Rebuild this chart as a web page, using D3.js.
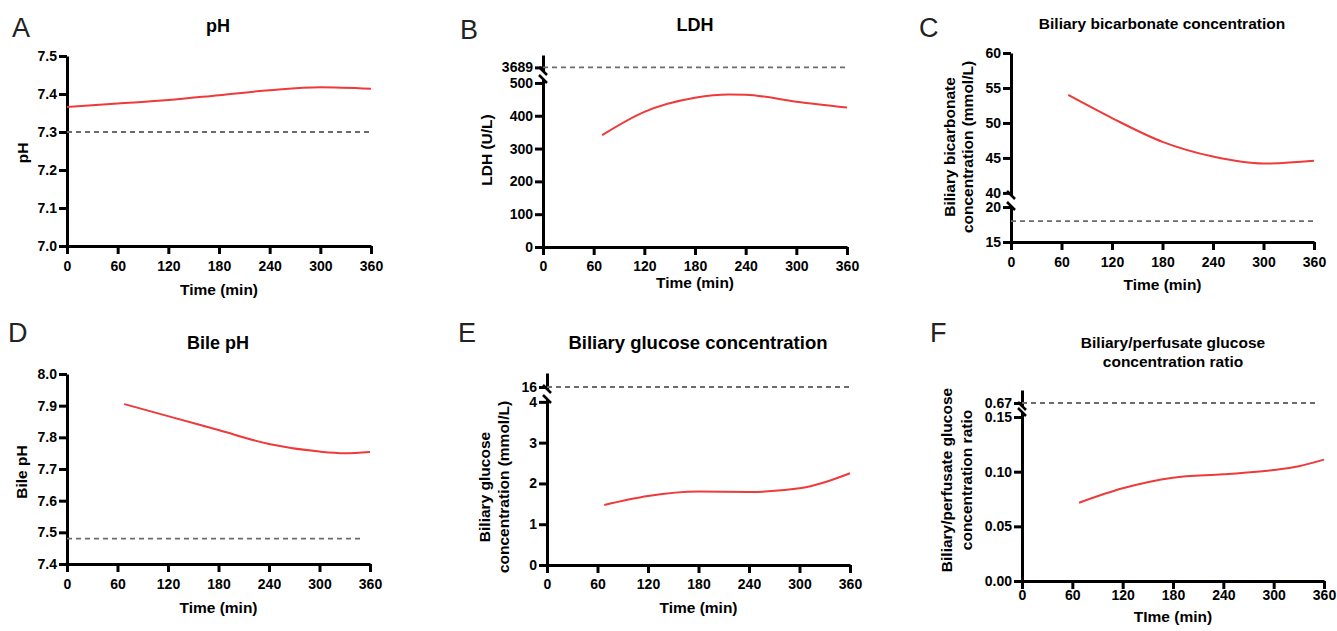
<!DOCTYPE html>
<html lang="en-US">
<head>
    <meta charset="utf-8">
    <title>Perfusion parameters</title>
    <script src="https://cdn.jsdelivr.net/npm/d3@7"></script>
    <style>
        body { margin: 0; background: #fff; }
        svg { display: block; font-family: Arial, "Liberation Sans", Helvetica, sans-serif; }
    </style>
</head>
<body>
    <svg></svg>
<script>

    // ---- data ----
    const xTicks = [0, 60, 120, 180, 240, 300, 360];

    const phTime = [0, 60, 120, 180, 240, 300, 360];
    const phValue = [7.366, 7.375, 7.384, 7.397, 7.410, 7.418, 7.414];
    const phTicks = [7.0, 7.1, 7.2, 7.3, 7.4, 7.5];

    const ldhTime = [70, 120, 180, 220, 240, 300, 360];
    const ldhValue = [341, 412, 455, 465, 464, 443, 425];
    const ldhTicks = [0, 100, 200, 300, 400, 500];

    const bicarbTime = [68, 120, 180, 240, 300, 360];
    const bicarbValue = [54.0, 50.7, 47.3, 45.2, 44.2, 44.6];
    const bicarbTicksUpper = [40, 45, 50, 55, 60];
    const bicarbTicksLower = [15, 20];

    const bilePhTime = [68, 120, 180, 240, 300, 330, 360];
    const bilePhValue = [7.905, 7.867, 7.823, 7.779, 7.755, 7.750, 7.754];
    const bilePhTicks = [7.4, 7.5, 7.6, 7.7, 7.8, 7.9, 8.0];

    const glucTime = [68, 120, 180, 240, 300, 330, 360];
    const glucValue = [1.47, 1.69, 1.80, 1.79, 1.88, 2.03, 2.25];
    const glucTicks = [0, 1, 2, 3, 4];

    const ratioTime = [68, 120, 180, 240, 300, 330, 360];
    const ratioValue = [0.0716, 0.0848, 0.0945, 0.0976, 0.1015, 0.105, 0.111];
    const ratioTicks = [0, 0.05, 0.10, 0.15];

    // reference (cut-off) lines: value, end time
    const refA = [7.3, 360];
    const refB = [3689, 360];
    const refC = [18, 360];
    const refD = [7.48, 350];
    const refE = [16, 360];
    const refF = [0.67, 350];

    const W = 1337, H = 631;
    const RED = '#ee3a3a';
    const DASH = '#6b6b6b';

    let svg = d3.select('svg').attr('width', W).attr('height', H);

    const panels = [
        {
            letter: 'A', lx: 12, ly: 37,
            title: ['pH'], tx: 218, ty: 32, tsize: 18,
            left: 67, right: 371, bottom: 246, xpad: 7,
            ytitle: ['pH'], ytx: [28], yty: 153,
            xtitleY: 295,
            segments: [{ domain: [7.0, 7.5], range: [246, 56], ticks: phTicks, fmt: '.1f', data: true }],
            time: phTime, value: phValue, ref: refA
        },
        {
            letter: 'B', lx: 460, ly: 39,
            title: ['LDH'], tx: 695, ty: 31, tsize: 18,
            left: 543, right: 847, bottom: 247, xpad: 6,
            ytitle: ['LDH (U/L)'], ytx: [492], yty: 150,
            xtitleY: 288,
            segments: [
                { domain: [0, 512], range: [247, 79], ticks: ldhTicks, fmt: 'd', data: true, breakTop: true },
                { domain: [3680, 3720], range: [71, 55], ticks: [3689], fmt: 'd', breakBottom: true }
            ],
            time: ldhTime, value: ldhValue, ref: refB, refSeg: 1
        },
        {
            letter: 'C', lx: 919, ly: 37,
            title: ['Biliary bicarbonate concentration'], tx: 1162, ty: 29, tsize: 15.5,
            left: 1011, right: 1314, bottom: 242, xpad: 7,
            ytitle: ['Biliary bicarbonate', 'concentration (mmol/L)'], ytx: [955, 973], yty: 147,
            xtitleY: 290,
            segments: [
                { domain: [39.7, 60], range: [195, 53], ticks: bicarbTicksUpper, fmt: 'd', data: true, breakBottom: true },
                { domain: [15, 20.15], range: [242, 206], ticks: bicarbTicksLower, fmt: 'd', breakTop: true }
            ],
            time: bicarbTime, value: bicarbValue, ref: refC, refSeg: 1
        },
        {
            letter: 'D', lx: 8, ly: 342,
            title: ['Bile pH'], tx: 218, ty: 349, tsize: 18,
            left: 67, right: 370, bottom: 564, xpad: 7,
            ytitle: ['Bile pH'], ytx: [27], yty: 472,
            xtitleY: 613,
            segments: [{ domain: [7.4, 8.0], range: [564, 374], ticks: bilePhTicks, fmt: '.1f', data: true }],
            time: bilePhTime, value: bilePhValue, ref: refD
        },
        {
            letter: 'E', lx: 458, ly: 342,
            title: ['Biliary glucose concentration'], tx: 698, ty: 349, tsize: 18.5,
            left: 547, right: 850, bottom: 565, xpad: 6,
            ytitle: ['Biliary glucose', 'concentration (mmol/L)'], ytx: [490, 509], yty: 487,
            xtitleY: 613,
            segments: [
                { domain: [0, 4.07], range: [565, 399], ticks: glucTicks, fmt: 'd', data: true, breakTop: true },
                { domain: [15.8, 17.4], range: [389, 373], ticks: [16], fmt: 'd', breakBottom: true }
            ],
            time: glucTime, value: glucValue, ref: refE, refSeg: 1
        },
        {
            letter: 'F', lx: 930, ly: 342,
            title: ['Biliary/perfusate glucose', 'concentration ratio'], tx: 1173, ty: 348, tsize: 15.5,
            left: 1022, right: 1324, bottom: 581, xpad: 1,
            ytitle: ['Biliary/perfusate glucose', 'concentration ratio'], ytx: [952, 972], yty: 480,
            xtitleY: 622, xlabel: 'TIme (min)',
            segments: [
                { domain: [0, 0.1546], range: [581, 412], ticks: ratioTicks, fmt: '.2f', data: true, breakTop: true },
                { domain: [0.667, 0.683], range: [406, 390], ticks: [0.67], fmt: '.2f', breakBottom: true }
            ],
            time: ratioTime, value: ratioValue, ref: refF, refSeg: 1
        }
    ];

    panels.forEach(drawPanel);

    function drawPanel(p) {
        let g = svg.append('g');

        // panel letter
        g.append('text')
            .attr('x', p.lx).attr('y', p.ly)
            .style('font-size', '27px')
            .attr('fill', '#222')
            .text(p.letter);

        // title (one or two lines)
        p.title.forEach((t, i) => {
            g.append('text')
                .attr('x', p.tx).attr('y', p.ty + i * 19)
                .attr('text-anchor', 'middle')
                .style('font-size', p.tsize + 'px')
                .style('font-weight', 'bold')
                .text(t);
        });

        let x = d3.scaleLinear().domain([0, 360]).range([p.left, p.right]);

        // x axis
        let xa = g.append('g')
            .attr('transform', `translate(0,${p.bottom})`)
            .call(d3.axisBottom(x).tickValues(xTicks).tickSize(8).tickSizeOuter(0).tickPadding(p.xpad));
        styleAxis(xa);

        g.append('text')
            .attr('x', (p.left + p.right) / 2).attr('y', p.xtitleY)
            .attr('text-anchor', 'middle')
            .style('font-size', '15.5px')
            .style('font-weight', 'bold')
            .text(p.xlabel || 'Time (min)');

        // y axis, split into segments where the axis is broken
        let yData, yRef;
        p.segments.forEach((s, i) => {
            let y = d3.scaleLinear().domain(s.domain).range(s.range);
            if (s.data) yData = y;
            if (i === (p.refSeg || 0)) yRef = y;
            let ya = g.append('g')
                .attr('transform', `translate(${p.left},0)`)
                .call(d3.axisLeft(y).tickValues(s.ticks).tickFormat(d3.format(s.fmt))
                    .tickSize(8).tickSizeOuter(0).tickPadding(2));
            styleAxis(ya);
            if (s.breakTop) breakMark(g, p.left, s.range[1]);
            if (s.breakBottom) breakMark(g, p.left, s.range[0]);
        });

        // y title
        p.ytitle.forEach((t, i) => {
            g.append('text')
                .attr('transform', `translate(${p.ytx[i]},${p.yty}) rotate(-90)`)
                .attr('text-anchor', 'middle')
                .style('font-size', '15.5px')
                .style('font-weight', 'bold')
                .text(t);
        });

        // reference line
        g.append('line')
            .attr('x1', x(0)).attr('x2', x(p.ref[1]))
            .attr('y1', yRef(p.ref[0])).attr('y2', yRef(p.ref[0]))
            .style('stroke', DASH)
            .style('stroke-width', 1.8)
            .style('stroke-dasharray', '5,4');

        // trend curve
        let line = d3.line()
            .x((d, i) => x(p.time[i]))
            .y(d => yData(d))
            .curve(d3.curveMonotoneX);

        g.append('path')
            .datum(p.value)
            .attr('d', line)
            .style('fill', 'none')
            .style('stroke', RED)
            .style('stroke-width', 2);
    }

    function styleAxis(a) {
        a.selectAll('path, line')
            .style('stroke', '#000')
            .style('stroke-width', 3);
        a.selectAll('text')
            .style('font-size', '14px')
            .style('font-weight', 'bold')
            .attr('fill', '#000');
    }

    function breakMark(g, ax, y) {
        g.append('line')
            .attr('x1', ax - 4).attr('y1', y - 4)
            .attr('x2', ax + 4).attr('y2', y + 4)
            .style('stroke', '#000')
            .style('stroke-width', 2.5);
    }

</script>
</body>
</html>
